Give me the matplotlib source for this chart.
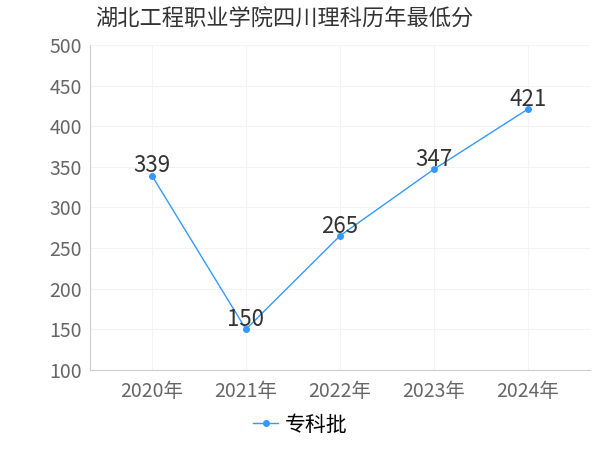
import matplotlib
matplotlib.use("Agg")
import matplotlib.pyplot as plt

plt.rcParams['font.family'] = 'Noto Sans CJK SC'

years = ["2020年", "2021年", "2022年", "2023年", "2024年"]
scores = [339, 150, 265, 347, 421]
series_name = "专科批"
title = "湖北工程职业学院四川理科历年最低分"

fig = plt.figure(figsize=(6, 4.5), dpi=100)
ax = fig.add_axes([0.15, 0.178, 0.833, 0.722])
x = list(range(len(years)))
ax.plot(x, scores, color="#3399ff", lw=1, marker='o', ms=4, label=series_name)
for xi, v in zip(x, scores):
    ax.text(xi, v - 2, str(v), ha='center', va='bottom', fontsize=16, color='#333333')
ax.set_xlim(-0.66, 4.66)
ax.set_ylim(100, 500)
ax.set_yticks(range(100, 501, 50))
ax.set_xticks(x)
ax.set_xticklabels(years)
ax.tick_params(axis='both', labelsize=14, colors='#666666', length=0)
ax.tick_params(axis='x', pad=8)
ax.tick_params(axis='y', pad=6)
ax.grid(True, color='#f3f3f3', lw=0.8)
for s in ['top', 'right']:
    ax.spines[s].set_visible(False)
for s in ['left', 'bottom']:
    ax.spines[s].set_color('#cccccc')
fig.text(0.158, 0.958, title, fontsize=16, color='#333333', ha='left', va='center')
fig.legend(loc='lower center', bbox_to_anchor=(0.5, -0.01), frameon=False, fontsize=15, handlelength=1.2, handletextpad=0.3)
fig.savefig("out.png", dpi=100)
